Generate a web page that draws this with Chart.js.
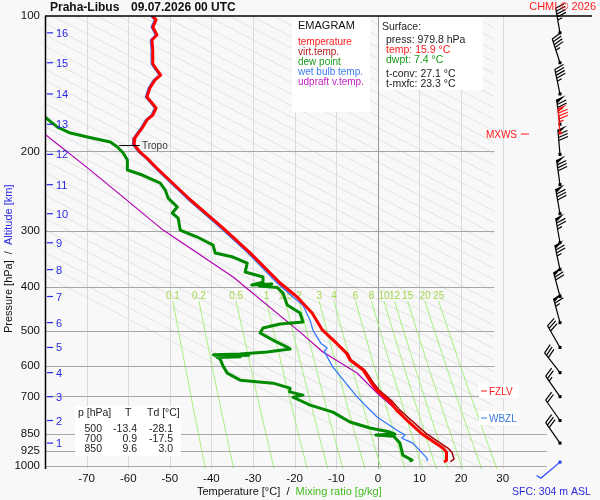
<!DOCTYPE html>
<html>
<head>
<meta charset="utf-8">
<script src="https://cdn.jsdelivr.net/npm/chart.js@4.4.1/dist/chart.umd.min.js"></script>
<style>
  html, body { margin: 0; padding: 0; background: #f8f8f8; }
  canvas { display: block; }
</style>
</head>
<body>
<canvas id="emagram" width="600" height="500"></canvas>
<script>
// ---- sounding data (pressure hPa / temperature °C) ----
const tempP = [100, 102, 105.8, 110.2, 113.1, 119, 127.7, 131.8, 135.3, 138.8, 144.5, 151.4, 156, 160.1, 166, 170.2, 176.5, 181.1, 186.8, 193, 200.5, 206.9, 217.9,
  256, 296, 336, 392, 421, 457, 499, 534, 562, 581, 612, 654, 678, 720, 751, 783, 845, 913, 932, 970, 980];
const tempT = [-54.2, -53.3, -54.1, -53.1, -54.3, -54.1, -54.1, -53.1, -52.2, -53.6, -54.8, -55.5, -54.3, -53.3, -54.1, -55.5, -56.5, -57.4, -58.4, -58.6, -57.2, -55.5, -53.1,
  -45.1, -37.2, -30.7, -23.5, -19.4, -15.8, -13.3, -9.9, -7.5, -6.7, -3.5, -1.5, -0.3, 2.9, 4.5, 6.5, 10.4, 15.7, 16.5, 16.5, 15.9];

const virtP = [499, 534, 562, 581, 612, 654, 678, 720, 751, 783, 845, 913, 932, 965, 978];
const virtT = [-13.1, -9.7, -7.2, -6.4, -3.1, -1.0, 0.3, 3.6, 5.3, 7.5, 11.5, 16.9, 17.8, 18.3, 17.4];

const dewP = [165, 176.5, 182, 185.7, 190.5, 195.5, 201.6, 208.9, 219.9, 225.6, 235, 243.6, 253.8, 265.7, 274, 281.1, 298.9, 309.8, 322.8, 336.3,
  343.2, 353.9, 370.6, 380.2, 390.1, 396, 394, 398, 401, 412.6, 438.6, 457.1, 478.6, 483.5, 493.5, 506.3, 524.8, 543.9, 549.5, 558,
  563.8, 566, 567.5, 569.6, 571.5, 573.5, 578.4, 599.6, 621.5, 644.2, 654.2, 671.2, 684, 695.6, 702.8, 714, 732.1, 758.6, 798.3, 823.2,
  840.2, 848.9, 853, 858, 889, 945.4, 969.8, 975];
const dewT = [-81, -77.0, -73.9, -69.8, -64.3, -62.6, -61.2, -60.2, -60.2, -56.6, -52.3, -51.1, -50.4, -48.2, -49.4, -48.0, -47.5, -43.4, -39.6, -39.1,
  -34.8, -31.4, -31.9, -27.6, -27.6, -30.3, -25.5, -28.5, -24.2, -22.8, -21.8, -18.7, -18.0, -23.5, -27.6, -28.3, -25.2, -21.8, -21.1, -26.6,
  -33.1, -39.5, -31.0, -39.1, -33.0, -38.6, -37.9, -37.2, -36.2, -33.1, -25.2, -21.1, -21.2, -18.0, -20.4, -18.8, -16.3, -10.8, -6.7, -1.9,
  2.9, 4.1, -0.5, 3.8, 5.3, 6.0, 8.2, 7.6];

const wetP = [100, 102, 105.8, 110.2, 113.1, 119, 127.7, 131.8, 135.3, 138.8, 144.5, 151.4, 156, 160.1, 166, 170.2, 176.5, 181.1, 186.8, 193, 200.5, 206.9, 217.9,
  256, 296, 336, 392, 421, 439, 474, 499, 535, 546, 556, 603, 702, 778, 832, 853, 867, 889, 960, 975];
const wetT = [-54.6, -53.7, -54.5, -53.5, -54.7, -54.5, -54.5, -53.5, -52.6, -54.0, -55.2, -55.9, -54.7, -53.7, -54.5, -55.9, -56.9, -57.8, -58.8, -59.0, -57.6, -55.9, -53.5,
  -45.6, -37.8, -31.3, -24.2, -20.4, -18.0, -16.3, -15.6, -13.6, -12.2, -12.9, -10.8, -5.0, -0.2, 4.6, 6.5, 5.8, 8.4, 11.8, 11.9];

const parcelP = [180, 220, 299, 380, 504, 558, 621, 688, 762, 798];
const parcelT = [-81, -69.1, -51.6, -34.8, -18.7, -13.2, -5.0, -0.2, 5.3, 7.7];

// ---- axes ----
const pressureTicks = [100, 200, 300, 400, 500, 600, 700, 850, 925, 1000];
const tempTicks = [-70, -60, -50, -40, -30, -20, -10, 0, 10, 20, 30];
const mixRatios = [0.1, 0.2, 0.5, 1, 1.5, 2, 3, 4, 6, 8, 10, 12, 15, 20, 25];
const altKm = [16, 15, 14, 13, 12, 11, 10, 9, 8, 7, 6, 5, 4, 3, 2, 1];
const altP = [109, 127, 149, 174, 203, 237, 275, 319, 366, 420, 480, 545, 620, 701, 792, 889];

// ---- winds at the altitude levels (deg, kt) ----
const windDir = [350, 342, 348, 352, 355, 352, 350, 350, 348, 345, 345, 330, 322, 325, 325, 325];
const windSpd = [45, 45, 45, 75, 80, 80, 80, 75, 75, 70, 65, 30, 30, 25, 20, 30];
const mxwsP = 182, mxwsDir = 355, mxwsSpd = 85;
const sfcP = 979.8, sfcDir = 230, sfcSpd = 5;

// ---- levels and surface info ----
const tropoP = 194;
const fzlvP = 681;
const wbzlP = 782;
const surfaceLines = [['press: 979.8 hPa', '#222'], ['temp: 15.9 °C', '#ff1a1a'], ['dwpt: 7.4 °C', '#1a9a1a']];
const convLines = ['t-conv: 27.1 °C', 't-mxfc: 23.3 °C'];
const tableRows = [['500', '-13.4', '-28.1'], ['700', '0.9', '-17.5'], ['850', '9.6', '3.0']];

const FONT = 'Liberation Sans, Arial, sans-serif';

function pts(P, T) {
  return P.map((p, i) => ({ x: T[i], y: p }));
}

// temperature at which saturation mixing ratio w (g/kg) is reached at pressure p
function tempForMix(w, p) {
  const e = w * p / (622 + w);
  const g = Math.log(e / 6.112);
  return 243.5 * g / (17.67 - g);
}

function seg(ctx, x1, y1, x2, y2) {
  ctx.beginPath();
  ctx.moveTo(x1, y1);
  ctx.lineTo(x2, y2);
  ctx.stroke();
}

function text(ctx, s, x, y, color, size, align, weight) {
  ctx.font = (weight || '') + ' ' + size + 'px ' + FONT;
  ctx.fillStyle = color;
  ctx.textAlign = align || 'left';
  ctx.textBaseline = 'middle';
  ctx.fillText(s, x, y);
}

function drawBarb(ctx, x0, y0, dir, spd, color) {
  const L = 25, fl = 10, gap = 3;
  const r = dir * Math.PI / 180;
  const ux = Math.sin(r), uy = -Math.cos(r);
  const fr = (dir + 72) * Math.PI / 180;
  const fx = Math.sin(fr), fy = -Math.cos(fr);
  const tx = x0 + ux * L, ty = y0 + uy * L;
  ctx.strokeStyle = color;
  ctx.fillStyle = color;
  ctx.lineWidth = 1.2;
  seg(ctx, x0, y0, tx, ty);
  let s = Math.round(spd / 5) * 5;
  const flags = Math.floor(s / 50); s -= flags * 50;
  const full = Math.floor(s / 10); s -= full * 10;
  const half = s >= 5;
  let pos = 0;
  for (let i = 0; i < flags; i++) {
    const bx = tx - ux * pos, by = ty - uy * pos;
    ctx.beginPath();
    ctx.moveTo(bx, by);
    ctx.lineTo(bx + fx * fl, by + fy * fl);
    ctx.lineTo(bx - ux * 4, by - uy * 4);
    ctx.closePath();
    ctx.fill();
    pos += 5;
  }
  for (let i = 0; i < full; i++) {
    const bx = tx - ux * pos, by = ty - uy * pos;
    seg(ctx, bx, by, bx + fx * fl, by + fy * fl);
    pos += gap;
  }
  if (half) {
    const bx = tx - ux * pos, by = ty - uy * pos;
    seg(ctx, bx, by, bx + fx * fl * 0.5, by + fy * fl * 0.5);
  }
  ctx.fillRect(x0 - 1.5, y0 - 1.5, 3, 3);
}

const emagramPlugin = {
  id: 'emagram',
  beforeDraw(chart) {
    const ctx = chart.ctx;
    ctx.save();
    ctx.fillStyle = '#f8f8f8';
    ctx.fillRect(0, 0, chart.width, chart.height);
    ctx.restore();
  },
  beforeDatasetsDraw(chart) {
    const { ctx, chartArea: a, scales: { x, y } } = chart;
    ctx.save();
    ctx.beginPath();
    ctx.rect(a.left, a.top, a.right - a.left, a.bottom - a.top);
    ctx.clip();
    ctx.lineWidth = 1;

    // diagonal guide lines
    const xr = x.getPixelForValue(28);
    const slope = 0.52;
    ctx.strokeStyle = '#e3e3e3';
    for (let t0 = -200; t0 < 30; t0 += 5.3) {
      const x0 = x.getPixelForValue(t0);
      let ex = x0 + (a.bottom - a.top) / slope, ey = a.bottom;
      if (ex > xr) { ex = xr; ey = a.top + (xr - x0) * slope; }
      if (ex <= x0) continue;
      seg(ctx, x0, a.top, ex, ey);
    }

    // isotherms
    tempTicks.forEach(t => {
      ctx.strokeStyle = t === 0 ? '#999' : '#dadada';
      const px = Math.round(x.getPixelForValue(t)) + 0.5;
      seg(ctx, px, a.top, px, a.bottom);
    });

    // mixing ratio lines
    ctx.strokeStyle = '#a6f07e';
    mixRatios.forEach(w => {
      ctx.beginPath();
      for (let p = 430; p <= 1020; p += 10) {
        const px = x.getPixelForValue(tempForMix(w, p));
        const py = y.getPixelForValue(p);
        if (p === 430) ctx.moveTo(px, py); else ctx.lineTo(px, py);
      }
      ctx.stroke();
    });
    ctx.restore();

    // mixing ratio labels
    mixRatios.forEach(w => {
      text(ctx, String(w), x.getPixelForValue(tempForMix(w, 430)), y.getPixelForValue(420), '#a2d64a', 10, 'center');
    });

    // isobars
    ctx.save();
    ctx.strokeStyle = '#a6a6a6';
    ctx.lineWidth = 1;
    pressureTicks.slice(1).forEach(p => {
      const py = Math.round(y.getPixelForValue(p)) + 0.5;
      const end = p >= 850 ? x.getPixelForValue(40.6) : xr;
      seg(ctx, a.left, py, end, py);
    });
    ctx.restore();
  },
  afterDatasetsDraw(chart) {
    const { ctx, chartArea: a, scales: { x, y } } = chart;
    ctx.save();

    // frame
    ctx.strokeStyle = '#000';
    ctx.lineWidth = 1.5;
    seg(ctx, a.left + 0.5, a.top, a.left + 0.5, a.bottom);
    seg(ctx, a.left, a.top, 592, a.top);

    // altitude ticks
    ctx.lineWidth = 1.2;
    ctx.strokeStyle = '#2828e6';
    altKm.forEach((km, i) => {
      const py = y.getPixelForValue(altP[i]);
      seg(ctx, a.left + 2, py, a.left + 8, py);
      text(ctx, String(km), a.left + 11, py + 1, '#2828e6', 11);
    });

    // tropopause
    const ty = y.getPixelForValue(tropoP);
    ctx.strokeStyle = '#000';
    ctx.lineWidth = 1;
    seg(ctx, x.getPixelForValue(-62.2), ty, x.getPixelForValue(-57.2), ty);
    text(ctx, 'Tropo', x.getPixelForValue(-56.7), ty + 1, '#333', 10);

    // legend box
    ctx.fillStyle = '#fff';
    ctx.fillRect(292, a.top + 1, 78, 95);
    text(ctx, 'EMAGRAM', 298, 26, '#111', 11);
    [['temperature', '#ff1a1a'], ['virt.temp.', '#b01818'], ['dew point', '#1a9a1a'],
     ['wet bulb temp.', '#3a7cf0'], ['udpraft v.temp.', '#c020c0']].forEach((l, i) => {
      text(ctx, l[0], 298, 42 + i * 10, l[1], 10);
    });

    // surface box
    ctx.fillStyle = '#fff';
    ctx.fillRect(379, a.top + 1, 104, 73);
    text(ctx, 'Surface:', 382, 27, '#222', 10.5);
    surfaceLines.forEach((l, i) => text(ctx, l[0], 386, 40 + i * 10, l[1], 10.5));
    convLines.forEach((l, i) => text(ctx, l, 386, 74 + i * 10, '#222', 10.5));

    // standard levels table
    ctx.fillStyle = '#fff';
    ctx.fillRect(75, 406, 106, 50);
    text(ctx, 'p [hPa]', 78, 413, '#222', 10.5);
    text(ctx, 'T', 125, 413, '#222', 10.5);
    text(ctx, 'Td [°C]', 147, 413, '#222', 10.5);
    tableRows.forEach((r, i) => {
      const ry = 429 + i * 10;
      text(ctx, r[0], 102, ry, '#222', 10.5, 'right');
      text(ctx, r[1], 137, ry, '#222', 10.5, 'right');
      text(ctx, r[2], 173, ry, '#222', 10.5, 'right');
    });

    // level markers
    const fy = y.getPixelForValue(fzlvP);
    const wy = y.getPixelForValue(wbzlP);
    const my = y.getPixelForValue(mxwsP);
    ctx.fillStyle = '#fff';
    ctx.fillRect(479, fy - 7, 40, 14);
    ctx.fillRect(479, wy - 7, 40, 14);
    ctx.lineWidth = 1;
    ctx.strokeStyle = '#ff1a1a';
    seg(ctx, 481, fy, 487, fy);
    text(ctx, 'FZLV', 489, fy + 1, '#ff1a1a', 10);
    ctx.strokeStyle = '#3a7ae0';
    seg(ctx, 481, wy, 487, wy);
    text(ctx, 'WBZL', 489, wy + 1, '#3a7ae0', 10);
    ctx.strokeStyle = '#ff1a1a';
    seg(ctx, 521, my + 1, 529, my + 1);
    text(ctx, 'MXWS', 517, my + 2, '#ff1a1a', 10, 'right');

    // wind barbs
    const bx = 560;
    altP.forEach((p, i) => drawBarb(ctx, bx, y.getPixelForValue(p), windDir[i], windSpd[i], '#000'));
    drawBarb(ctx, bx, my, mxwsDir, mxwsSpd, '#ff1a1a');
    drawBarb(ctx, bx, y.getPixelForValue(sfcP), sfcDir, sfcSpd, '#2040ff');

    // titles
    text(ctx, 'Praha-Libus', 50, 8, '#111', 12, 'left', 'bold');
    text(ctx, '09.07.2026 00 UTC', 131, 8, '#111', 12, 'left', 'bold');
    text(ctx, 'CHMI © 2026', 596, 7, '#ff1a1a', 11, 'right');

    ctx.font = '11px ' + FONT;
    const t1 = 'Temperature [°C]  /  ';
    text(ctx, t1, 197, 492, '#111', 11);
    text(ctx, 'Mixing ratio [g/kg]', 197 + ctx.measureText(t1).width, 492, '#44bb22', 11);
    text(ctx, 'SFC: 304 m ASL', 512, 492, '#2a2ae0', 10.5);

    ctx.translate(9, 333);
    ctx.rotate(-Math.PI / 2);
    const t2 = 'Pressure [hPa]  /  ';
    text(ctx, t2, 0, 0, '#111', 11);
    text(ctx, 'Altitude [km]', ctx.measureText(t2).width, 0, '#2828e6', 11);
    ctx.restore();
  }
};

const lineStyle = { showLine: true, pointRadius: 0, tension: 0, fill: false, borderJoinStyle: 'round' };

new Chart(document.getElementById('emagram'), {
  type: 'scatter',
  data: {
    datasets: [
      { ...lineStyle, label: 'temperature', data: pts(tempP, tempT), borderColor: '#ff0000', borderWidth: 3, order: 0 },
      { ...lineStyle, label: 'dew point', data: pts(dewP, dewT), borderColor: '#008a00', borderWidth: 3, order: 1 },
      { ...lineStyle, label: 'virt.temp.', data: pts(virtP, virtT), borderColor: '#a00000', borderWidth: 1.5, order: 2 },
      { ...lineStyle, label: 'wet bulb temp.', data: pts(wetP, wetT), borderColor: '#2a72ff', borderWidth: 1.2, order: 3 },
      { ...lineStyle, label: 'udpraft v.temp.', data: pts(parcelP, parcelT), borderColor: '#b000b0', borderWidth: 1.2, order: 4 }
    ]
  },
  options: {
    responsive: false,
    animation: false,
    devicePixelRatio: 1,
    events: [],
    layout: { padding: { top: 16, right: 89, left: 0, bottom: 0 } },
    plugins: { legend: { display: false }, tooltip: { enabled: false } },
    scales: {
      x: {
        type: 'linear', min: -80, max: 32, position: 'bottom',
        grid: { display: false, drawTicks: false },
        border: { display: false },
        afterBuildTicks: s => { s.ticks = tempTicks.map(v => ({ value: v })); },
        afterFit: s => { s.height = 31; },
        ticks: { color: '#111', font: { family: FONT, size: 11.5 }, padding: 3, autoSkip: false, maxRotation: 0, callback: v => String(v) }
      },
      y: {
        type: 'logarithmic', min: 100, max: 1015, reverse: true, position: 'left',
        grid: { display: false, drawTicks: false },
        border: { display: false },
        afterBuildTicks: s => { s.ticks = pressureTicks.map(v => ({ value: v })); },
        afterFit: s => { s.width = 45; },
        ticks: { color: '#111', font: { family: FONT, size: 11.5 }, padding: 5, autoSkip: false, callback: v => String(v) }
      }
    }
  },
  plugins: [emagramPlugin]
});
</script>
</body>
</html>
